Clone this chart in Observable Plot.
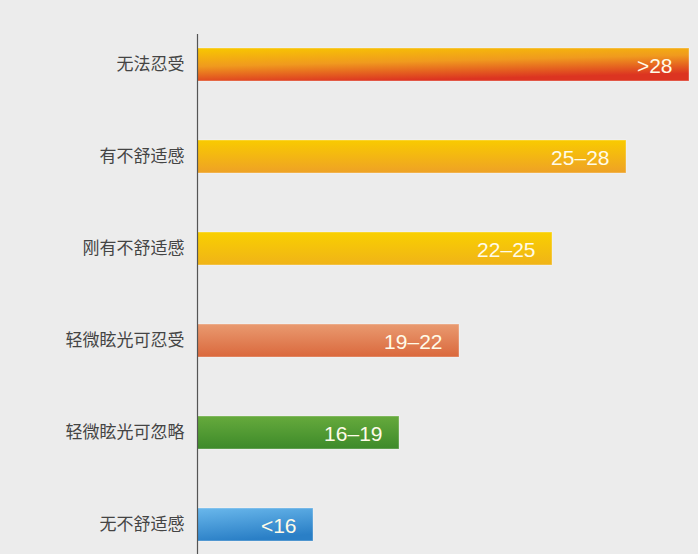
<!DOCTYPE html>
<html>
<head>
<meta charset="utf-8">
<script src="https://cdn.jsdelivr.net/npm/d3@7"></script>
<script src="https://cdn.jsdelivr.net/npm/@observablehq/plot@0.6"></script>
<style>
  html, body { margin: 0; padding: 0; background: #ececec; }
  #chart { width: 698px; height: 554px; overflow: hidden; }
</style>
</head>
<body>
<div id="chart"></div>
<script>
const levels = ["无法忍受", "有不舒适感", "刚有不舒适感", "轻微眩光可忍受", "轻微眩光可忽略", "无不舒适感"];
const ranges = [">28", "25–28", "22–25", "19–22", "16–19", "<16"];
const lengths = [492, 429, 355, 262, 202, 116];
const gradIds = ["g0", "g1", "g2", "g3", "g4", "g5"];
const gradStops = [
  [["0%", "#f8c800"], ["50%", "#f09a1e"], ["100%", "#dc3421"]],
  [["0%", "#f9cb00"], ["100%", "#eea126"]],
  [["0%", "#f9d000"], ["100%", "#f0b318"]],
  [["0%", "#e99a70"], ["100%", "#da683c"]],
  [["0%", "#66aa3c"], ["100%", "#3d8a2a"]],
  [["0%", "#6ab8ec"], ["100%", "#2a7fc6"]]
];
const gradVec = [[0, 0, 0.35, 1], [0, 0, 0, 1], [0, 0, 0, 1], [0, 0, 0, 1], [0, 0, 0, 1], [0, 0, 0.3, 1]];

const data = levels.map((l, i) => ({level: l, range: ranges[i], len: lengths[i], gid: gradIds[i]}));

const chart = Plot.plot({
  width: 698,
  height: 554,
  marginLeft: 197,
  marginRight: 1,
  marginTop: 34,
  marginBottom: 0,
  style: {background: "#ececec", fontFamily: "'Noto Sans CJK SC', sans-serif", color: "#444"},
  x: {domain: [0, 500], axis: null},
  y: {domain: levels, range: [46.5, 541.5], paddingInner: 0.643, paddingOuter: 0, label: null},
  marks: [
    Plot.barX(data, {x: "len", y: "level", fill: d => `url(#${d.gid})`, stroke: "#fff", strokeOpacity: 0.35, strokeWidth: 1}),
    Plot.axisY({tickSize: 0, tickPadding: 13, fontSize: 17, label: null}),
    Plot.ruleX([0], {stroke: "#555", strokeWidth: 1.2}),
    Plot.text(data, {x: "len", y: "level", text: "range", textAnchor: "end", dx: -17, dy: 1, fill: "#fffbe8", fontSize: 21, fontFamily: "'Liberation Sans', Arial, sans-serif"})
  ]
});

const ns = "http://www.w3.org/2000/svg";
const defs = document.createElementNS(ns, "defs");
gradIds.forEach((id, i) => {
  const g = document.createElementNS(ns, "linearGradient");
  g.setAttribute("id", id);
  const v = gradVec[i];
  g.setAttribute("x1", v[0]); g.setAttribute("y1", v[1]);
  g.setAttribute("x2", v[2]); g.setAttribute("y2", v[3]);
  gradStops[i].forEach(([o, c]) => {
    const s = document.createElementNS(ns, "stop");
    s.setAttribute("offset", o);
    s.setAttribute("stop-color", c);
    g.appendChild(s);
  });
  defs.appendChild(g);
});
chart.insertBefore(defs, chart.firstChild);
document.getElementById("chart").appendChild(chart);
</script>
</body>
</html>
